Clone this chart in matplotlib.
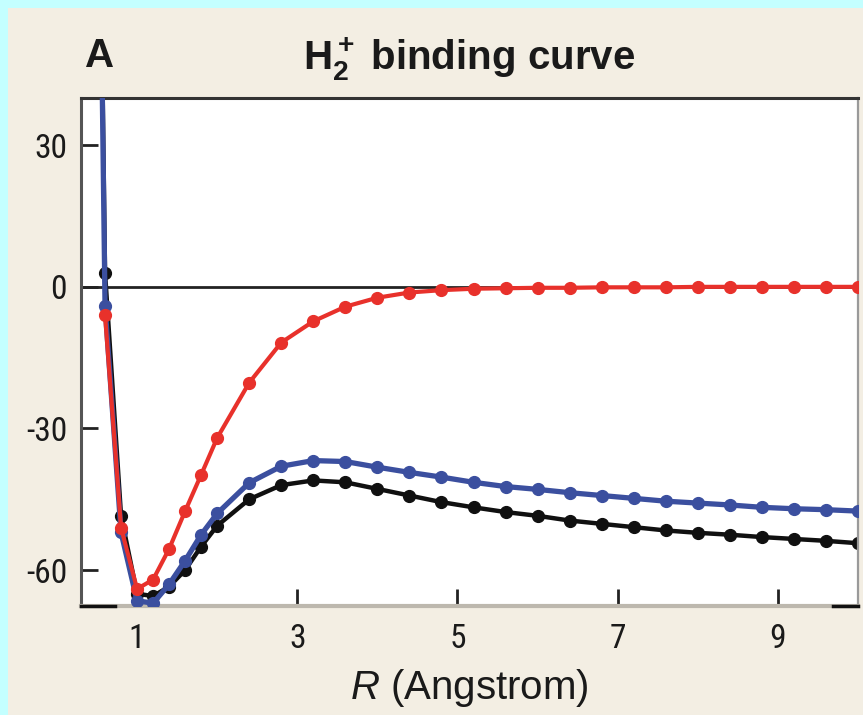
import matplotlib
matplotlib.use("Agg")
import matplotlib.pyplot as plt
from matplotlib.patches import Rectangle
import matplotlib.transforms as mtransforms
import numpy as np

# ---------------- data ----------------
R = [0.4, 0.6, 0.8, 1.0, 1.2, 1.4, 1.6, 1.8, 2.0, 2.4, 2.8,
     3.2, 3.6, 4.0, 4.4, 4.8, 5.2, 5.6, 6.0, 6.4, 6.8, 7.2, 7.6,
     8.0, 8.4, 8.8, 9.2, 9.6, 10.0]

black_E = [260, 3, -48.5, -65, -65.5, -63.5, -60, -55, -50.6, -45, -42,
           -41.0, -41.4, -42.8, -44.2, -45.6, -46.7, -47.7, -48.5, -49.5,
           -50.2, -50.9, -51.6, -52.1, -52.5, -53.0, -53.4, -53.8, -54.3]

blue_E = [260, -4, -52, -66.5, -67, -63, -58, -52.5, -48, -41.5, -38,
          -36.8, -37.0, -38.2, -39.3, -40.3, -41.4, -42.3, -42.9, -43.6,
          -44.2, -44.8, -45.4, -45.8, -46.2, -46.7, -47.0, -47.2, -47.5]

red_E = [np.nan, -6, -51, -64, -62, -55.5, -47.5, -39.8, -32, -20.3, -11.8,
         -7.3, -4.2, -2.3, -1.2, -0.7, -0.4, -0.3, -0.2, -0.2,
         -0.1, -0.1, -0.1, 0, 0, 0, 0, 0, 0]

xticks = [1, 3, 5, 7, 9]
yticks = [30, 0, -30, -60]

# ---------------- style ----------------
TICKFONT = ['Roboto Condensed', 'DejaVu Sans']
TEXTFONT = ['Liberation Sans', 'DejaVu Sans']
plt.rcParams['font.family'] = TICKFONT
plt.rcParams['axes.unicode_minus'] = False
plt.rcParams['mathtext.fontset'] = 'custom'
plt.rcParams['mathtext.rm'] = 'Liberation Sans'
plt.rcParams['mathtext.it'] = 'Liberation Sans:italic'
plt.rcParams['mathtext.bf'] = 'Liberation Sans:bold'

W, H = 863, 715
fig = plt.figure(figsize=(W / 100, H / 100), dpi=100)
fig.patch.set_facecolor('#f3eee3')

# cyan frame strips (top and left)
fig.patches.append(Rectangle((0, 1 - 8 / H), 1, 8 / H, transform=fig.transFigure,
                             facecolor='#c4ffff', edgecolor='none', zorder=-1))
fig.patches.append(Rectangle((0, 0), 8 / W, 1, transform=fig.transFigure,
                             facecolor='#c4ffff', edgecolor='none', zorder=-1))

ax = fig.add_axes([81 / W, 1 - 606 / H, (858 - 81) / W, (606 - 98) / H])
ax.set_facecolor('white')

ax.axhline(0, color='#222222', lw=2.0, zorder=1)

ms = 8.5
ax.plot(R, black_E, color='#101010', lw=3.2, marker='o', ms=ms, zorder=2)
ax.plot(R, blue_E, color='#3b4f9f', lw=3.8, marker='o', ms=ms, zorder=3)
ax.plot(R, red_E, color='#e8312b', lw=3.0, marker='o', ms=ms, zorder=4)

ax.set_xlim(0.3, 10.0)
ax.set_ylim(-67.6, 40)
ax.set_xticks(xticks)
ax.set_yticks(yticks)
ax.set_xticklabels([str(t) for t in xticks])
ax.set_yticklabels([str(t) for t in yticks])
ax.tick_params(direction='in', length=12, width=2, colors='#222222',
               labelsize=24, labelcolor='#1a1a1a')
ax.tick_params(axis='y', pad=10)
ax.tick_params(axis='x', pad=12)

ax.spines['top'].set_color('#333333')
ax.spines['top'].set_linewidth(2.2)
ax.spines['left'].set_color('#555555')
ax.spines['left'].set_linewidth(2.2)
ax.spines['right'].set_color('#9a9a9a')
ax.spines['right'].set_linewidth(1.6)
ax.spines['bottom'].set_color('#bdb8ae')
ax.spines['bottom'].set_linewidth(3)

# dark segments on bottom spine ends
trans = mtransforms.blended_transform_factory(ax.transData, ax.transAxes)
ax.plot([0.3, 0.72], [0, 0], color='#111111', lw=2.5, transform=trans,
        clip_on=False, zorder=5)
ax.plot([9.69, 10.0], [0, 0], color='#111111', lw=2.5, transform=trans,
        clip_on=False, zorder=5)

ax.set_xlabel(r'$\mathit{R}$ (Angstrom)', fontsize=29, color='#1a1a1a',
              labelpad=9, family=TEXTFONT)
ax.set_title(r'$\mathbf{H_2^+}$ binding curve', fontsize=29, fontweight='bold',
             color='#1a1a1a', pad=20, family=TEXTFONT)
ax.text(0.005, 1.045, 'A', transform=ax.transAxes, fontsize=29, fontweight='bold',
        color='#1a1a1a', va='bottom', ha='left', family=TEXTFONT)

fig.savefig('out.png', dpi=100, facecolor=fig.get_facecolor())
